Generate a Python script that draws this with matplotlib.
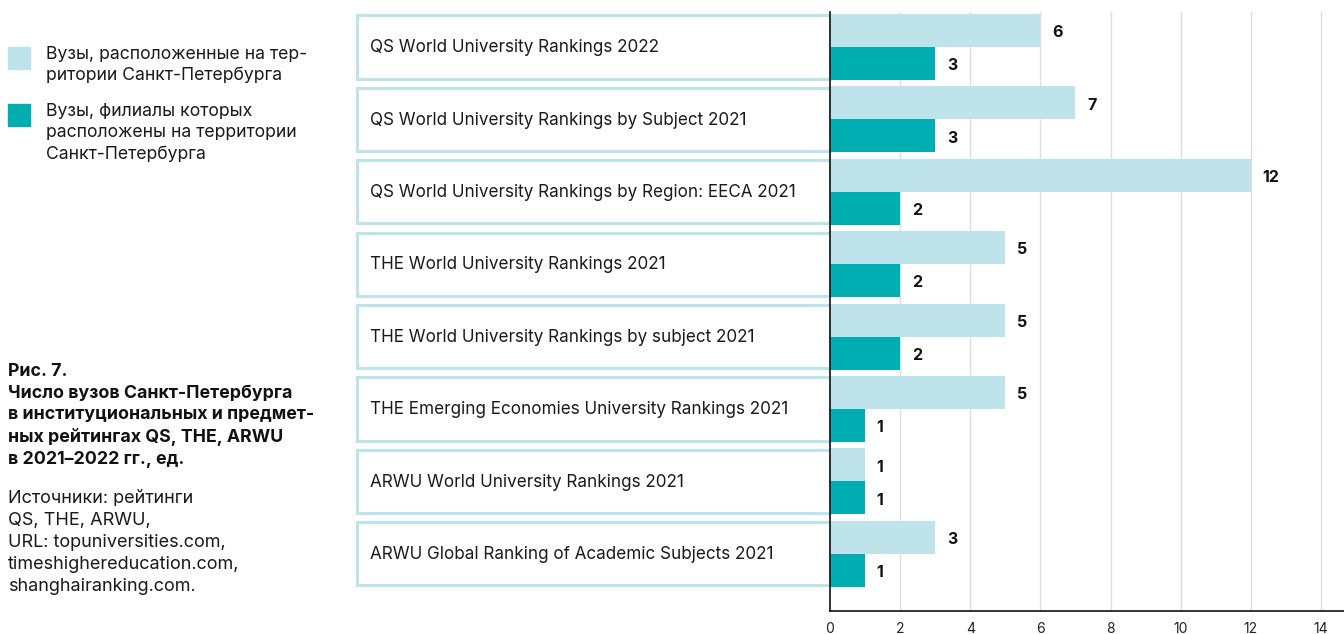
import matplotlib.pyplot as plt
import matplotlib.transforms as mtransforms
from matplotlib.patches import Rectangle
import numpy as np

plt.rcParams['font.family'] = ['Inter', 'DejaVu Sans']

rankings = [
    'QS World University Rankings 2022',
    'QS World University Rankings by Subject 2021',
    'QS World University Rankings by Region: EECA 2021',
    'THE World University Rankings 2021',
    'THE World University Rankings by subject 2021',
    'THE Emerging Economies University Rankings 2021',
    'ARWU World University Rankings 2021',
    'ARWU Global Ranking of Academic Subjects 2021',
]
in_spb = [6, 7, 12, 5, 5, 5, 1, 3]
branches = [3, 3, 2, 2, 2, 1, 1, 1]
xticks = [0, 2, 4, 6, 8, 10, 12, 14]

legend_labels = [
    'Вузы, расположенные на тер-\nритории Санкт-Петербурга',
    'Вузы, филиалы которых\nрасположены на территории\nСанкт-Петербурга',
]
title = ('Рис. 7.\nЧисло вузов Санкт-Петербурга\nв институциональных и предмет-\n'
         'ных рейтингах QS, THE, ARWU\nв 2021–2022 гг., ед.')
source = ('Источники: рейтинги\nQS, THE, ARWU,\nURL: topuniversities.com,\n'
          'timeshighereducation.com,\nshanghairanking.com.')

light = '#bfe3ea'
dark = '#00adb1'

W, H = 1344, 634
fig = plt.figure(figsize=(W / 100, H / 100), dpi=100)
ax = fig.add_axes([830 / W, 23 / H, (W - 830) / W, (611 - 12) / H])

h = 0.456
y = np.arange(len(rankings))
ax.barh(y - h / 2, in_spb, height=h, color=light, zorder=2)
ax.barh(y + h / 2, branches, height=h, color=dark, zorder=2)

for yi, v in zip(y, in_spb):
    ax.text(v + 0.33, yi - h / 2 + 0.03, str(v), va='center', ha='left',
            fontsize=11.5, fontweight='bold', color='#111111')
for yi, v in zip(y, branches):
    ax.text(v + 0.33, yi + h / 2 + 0.03, str(v), va='center', ha='left',
            fontsize=11.5, fontweight='bold', color='#111111')

ax.set_xlim(0, (W - 830) / 35.07)
ax.set_ylim(7.79, -0.483)
ax.set_xticks(xticks)
ax.set_xticklabels([str(t) for t in xticks], fontsize=10, color='#222222')
ax.set_yticks([])
ax.tick_params(axis='x', length=0, pad=8)
for xt in xticks[1:]:
    ax.axvline(xt, color='#dddddd', lw=1, zorder=1)
for s in ['top', 'right']:
    ax.spines[s].set_visible(False)
for s in ['left', 'bottom']:
    ax.spines[s].set_color('#111111')
    ax.spines[s].set_linewidth(1.2)
    ax.spines[s].set_zorder(3)

# label boxes to the left of the axis
trans = mtransforms.blended_transform_factory(ax.transAxes, ax.transData)
box_left = (357 - 830) / (W - 830)
for yi, name in zip(y, rankings):
    rect = Rectangle((box_left, yi - h + 0.02), -box_left, 2 * h - 0.04,
                     transform=trans, facecolor='white', edgecolor=light,
                     lw=2.2, clip_on=False, zorder=1)
    ax.add_patch(rect)
    ax.text(box_left + 13 / (W - 830), yi + 0.01, name, transform=trans,
            va='center', ha='left', fontsize=12.3, color='#1a1a1a')

# legend
for i, (lab, col) in enumerate(zip(legend_labels, [light, dark])):
    top = [47, 104][i]
    fig.patches.append(Rectangle((8 / W, 1 - (top + 22) / H), 22 / W, 22 / H,
                                 transform=fig.transFigure, color=col))
    fig.text(46 / W, 1 - (top - 1) / H, lab, va='top', ha='left',
             fontsize=12.7, linespacing=1.33, color='#1a1a1a')

fig.text(8 / W, 1 - 363 / H, title, va='top', ha='left', fontsize=12.8,
         fontweight='bold', linespacing=1.36, color='#111111')
fig.text(8 / W, 1 - 490 / H, source, va='top', ha='left', fontsize=13,
         linespacing=1.38, color='#1a1a1a')

fig.savefig('out.png', dpi=100)
